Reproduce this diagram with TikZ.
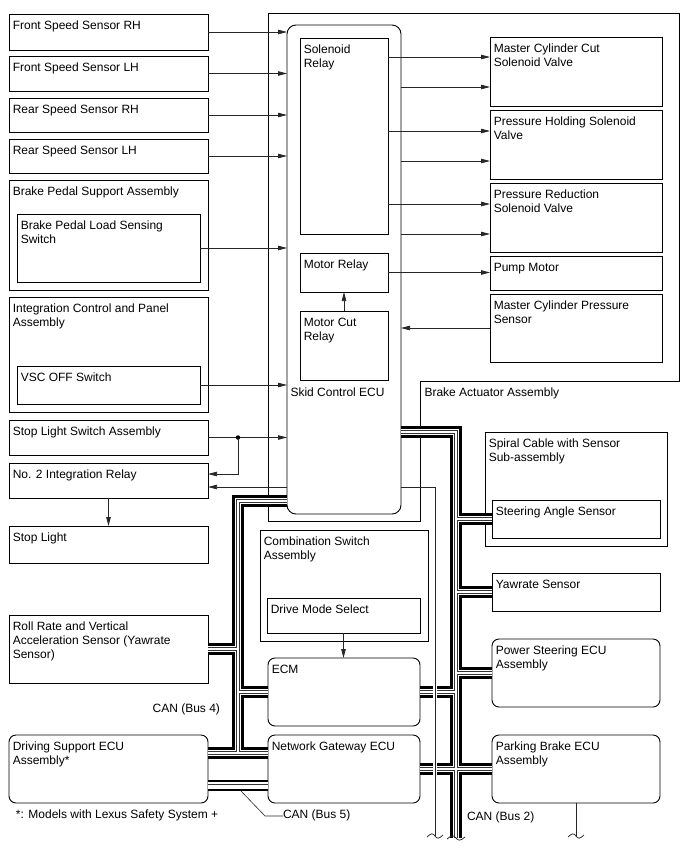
\documentclass[tikz,border=0pt]{standalone}
\usepackage{fontspec}
\setmainfont{Liberation Sans}
\usetikzlibrary{arrows.meta,calc}
\tikzset{
 bx/.style={draw, line width=0.9pt, fill=white, inner sep=0pt, outer sep=0pt},
 rbx/.style={bx, rounded corners=7pt},
 lbl/.style={anchor=north west, inner sep=0pt, outer sep=0pt, xshift=3.8pt, yshift=-5.7pt, align=left},
 conn/.style={draw=black!85, line width=0.75pt},
 arr/.style={conn, -{Triangle[length=9pt,width=4.5pt]}},
 txt/.style={inner sep=0pt, outer sep=0pt},
}
\newcommand\mybox[7]{\node[#1, minimum width=#5pt-#3pt, minimum height=#6pt-#4pt, label={[lbl]north west:{\strut #7}}] (#2) at ({(#3+#5)/2},{(#4+#6)/2}) {};}
\newcommand\buses[1]{%
 \draw[#1] (ecu.east |- bR) -- (bR) -- (bRend);
 \draw[#1] (bR |- sas.west) -- (sas.west);
 \draw[#1] (bR |- yaw.west) -- (yaw.west);
 \draw[#1] (bR |- ps.west) -- (ps.west);
 \draw[#1] (bR |- pb.west) -- (pb.west);
 \draw[#1] (ecm.east) -- (bR |- ecm.east);
 \draw[#1] (ng.east) -- (bR |- ng.east);
 \draw[#1] (ecu.west |- bL) -- (bL) -- (bLend);
 \draw[#1] (roll.east) -- (bL |- roll.east);
 \draw[#1] (bL |- ecm.west) -- (ecm.west);
 \draw[#1] (ds.east |- bLend) -- (ng.west |- bLend);
 \draw[#1] (ds.east |- b5) -- (ng.west |- b5);
}
\newcommand\wavemark[2]{\draw[conn] ($(#1)+(-#2,1)$) .. controls ($(#1)+(-#2/2,-3)$) and ($(#1)+(-#2/4,-3)$) .. (#1) .. controls ($(#1)+(#2/4,3)$) and ($(#1)+(#2/2,3)$) .. ($(#1)+(#2,-1)$);}
\begin{document}
\begin{tikzpicture}[x=1pt, y=-1pt, font=\fontsize{12}{14}\selectfont]
\useasboundingbox (0,0) rectangle (688,852);
% brake actuator outline
\draw[line width=0.9pt] (268,13) -- (679,13) -- (679,381) -- (420,381) -- (420,521) -- (268,521) -- cycle;
% left column
\mybox{bx}{fsrh}{9}{14}{208}{50}{Front Speed Sensor RH}
\mybox{bx}{fslh}{9}{56}{208}{91}{Front Speed Sensor LH}
\mybox{bx}{rsrh}{9}{98}{208}{132}{Rear Speed Sensor RH}
\mybox{bx}{rslh}{9}{139}{208}{173}{Rear Speed Sensor LH}
\mybox{bx}{bpsa}{9}{180}{208}{290}{Brake Pedal Support Assembly}
\mybox{bx}{bpls}{17}{214}{200}{282}{Brake Pedal Load Sensing\\Switch}
\mybox{bx}{icpa}{9}{297}{208}{412}{Integration Control and Panel\\Assembly}
\mybox{bx}{vsc}{17}{366}{200}{404}{VSC OFF Switch}
\mybox{bx}{sls}{9}{420}{208}{455}{Stop Light Switch Assembly}
\mybox{bx}{relay}{9}{463}{208}{498}{No. 2 Integration Relay}
\mybox{bx}{stop}{9}{526}{208}{563}{Stop Light}
\mybox{bx}{roll}{9}{615}{208}{683}{Roll Rate and Vertical\\Acceleration Sensor (Yawrate\\Sensor)}
\mybox{rbx}{ds}{9}{735}{208}{803}{Driving Support ECU\\Assembly*}
% skid control ECU
\node[rbx, rounded corners=9pt, minimum width=114pt, minimum height=489pt] (ecu) at (344,269.5) {};
\mybox{bx}{sol}{300}{38}{388}{234}{Solenoid\\Relay}
\mybox{bx}{mr}{300}{253}{388}{292}{Motor Relay}
\mybox{bx}{mcr}{300}{311}{388}{380}{Motor Cut\\Relay}
% actuator parts
\mybox{bx}{mcc}{490}{37}{662}{106}{Master Cylinder Cut\\Solenoid Valve}
\mybox{bx}{ph}{490}{110}{662}{179}{Pressure Holding Solenoid\\Valve}
\mybox{bx}{pr}{490}{183}{662}{252}{Pressure Reduction\\Solenoid Valve}
\mybox{bx}{pm}{490}{256}{662}{290}{Pump Motor}
\mybox{bx}{mcps}{490}{294}{662}{362}{Master Cylinder Pressure\\Sensor}
% right column
\mybox{bx}{sc}{485}{432}{667}{546}{Spiral Cable with Sensor\\Sub-assembly}
\mybox{bx}{sas}{492}{500}{660}{538}{Steering Angle Sensor}
\mybox{bx}{yaw}{492}{573}{660}{611}{Yawrate Sensor}
\mybox{rbx}{ps}{492}{639}{660}{707}{Power Steering ECU\\Assembly}
\mybox{rbx}{pb}{492}{735}{660}{803}{Parking Brake ECU\\Assembly}
% middle
\mybox{bx}{cs}{260}{530}{428}{641}{Combination Switch\\Assembly}
\mybox{bx}{dms}{267}{598}{420}{633}{Drive Mode Select}
\mybox{rbx}{ecm}{268}{658}{420}{726}{ECM}
\mybox{rbx}{ng}{268}{735}{420}{803}{Network Gateway ECU}
% texts
\node[txt, anchor=base west] (ecutxt) at (290.5,396.5) {Skid Control ECU};
\node[txt, anchor=base west] (batxt) at (424.5,396.5) {Brake Actuator Assembly};
\node[txt, anchor=base east] (can4) at (220,712) {CAN (Bus 4)};
\node[txt, anchor=base west] (can5) at (283,818.5) {CAN (Bus 5)};
\node[txt, anchor=base west] (can2) at (467,820) {CAN (Bus 2)};
\node[txt, anchor=base west] (note) at (16,818) {*: Models with Lexus Safety System +};
% coordinates
\coordinate (bR) at (456,432);
\coordinate (bRend) at (456,838);
\coordinate (bL) at (238,501);
\coordinate (bLend) at (238,753);
\coordinate (b5) at (238,785.5);
\coordinate (tl) at (435,487);
\coordinate (tlend) at (435,836);
\coordinate (rin1) at ($(relay.east)+(0,-6.5)$);
\coordinate (rin2) at ($(relay.east)+(0,6.5)$);
\coordinate (v1) at ($(mcc.north west)+(0,20)$);
\coordinate (v2) at ($(mcc.north west)+(0,50)$);
\coordinate (v3) at ($(ph.north west)+(0,21)$);
\coordinate (v4) at ($(ph.north west)+(0,51)$);
\coordinate (v5) at ($(pr.north west)+(0,21)$);
\coordinate (v6) at ($(pr.north west)+(0,51)$);
\coordinate (pbend) at (pb.south |- tlend);
\coordinate (c5a) at (241,791);
\coordinate (c5b) at (265,816);
% arrows left
\foreach \n in {fsrh,fslh,rsrh,rslh,bpls,vsc,sls}
  \draw[arr] (\n.east) -- (\n.east -| ecu.west);
\node[circle, fill=black, inner sep=0pt, minimum size=4.5pt] (dot) at (sls.east -| bL) {};
\draw[arr] (dot.center) |- (rin1);
\draw[arr] (ecu.west |- rin2) -- (rin2);
\draw[arr] (relay.south) -- (stop.north);
% arrows right
\draw[arr] (sol.east |- v1) -- (v1);
\draw[arr] (ecu.east |- v2) -- (v2);
\draw[arr] (sol.east |- v3) -- (v3);
\draw[arr] (ecu.east |- v4) -- (v4);
\draw[arr] (sol.east |- v5) -- (v5);
\draw[arr] (ecu.east |- v6) -- (v6);
\draw[arr] (mr.east) -- (mr.east -| pm.west);
\draw[arr] (mcps.west) -- (mcps.west -| ecu.east);
\draw[arr] (mcr.north) -- (mr.south);
\draw[arr] (dms.south) -- (dms.south |- ecm.north);
% buses
\buses{line width=11.5pt, black}
\buses{line width=6.6pt, white}
\buses{line width=3.6pt, black!80}
\buses{line width=2pt, white}
% thin lines
\draw[white, line width=4.5pt] ($(tl |- ecm.east)+(0,-12)$) -- ($(tl |- ng.east)+(0,12)$);
\draw[conn] (ecu.east |- tl) -- (tl) -- (tlend);
\draw[conn] (pb.south) -- (pbend);
\draw[conn, line width=0.6pt] (c5a) -- (c5b) -- (can5.west |- c5b);
\wavemark{tlend}{8}
\wavemark{pbend}{8}
\wavemark{bRend}{9}
\end{tikzpicture}
\end{document}
